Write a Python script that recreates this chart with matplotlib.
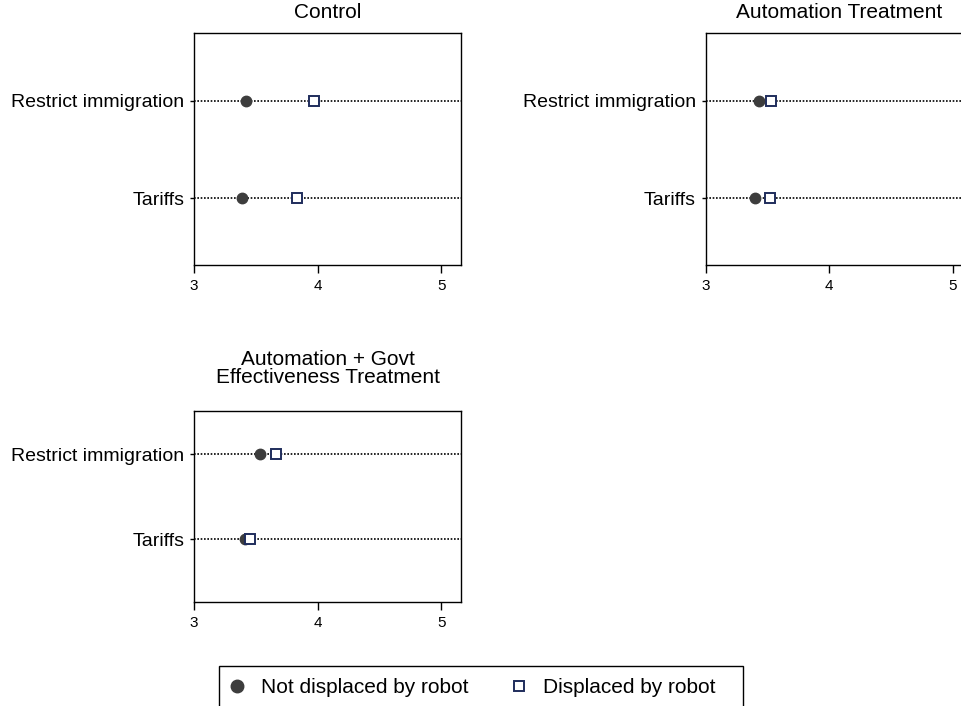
import matplotlib.pyplot as plt
from matplotlib.lines import Line2D
from matplotlib.patches import Rectangle

plt.rcParams['font.family'] = ['Liberation Sans', 'DejaVu Sans']

# policy items, bottom to top
items = ['Tariffs', 'Restrict immigration']
panels = ['Control', 'Automation Treatment', 'Automation + Govt\nEffectiveness Treatment']

# mean support, one list per panel, same order as items
not_displaced = [
    [3.39, 3.42],
    [3.40, 3.43],
    [3.41, 3.53],
]
displaced = [
    [3.83, 3.97],
    [3.52, 3.53],
    [3.45, 3.66],
]

x_ticks = [3, 4, 5]

W, H = 961, 706
fig = plt.figure(figsize=(W / 100, H / 100), dpi=100)

# axes boxes in pixels: left, top, right, bottom
boxes = [
    (194, 33, 461, 265),
    (705.5, 33, 972.5, 265),
    (194, 411, 461, 602),
]
ylims = [(0.31, 2.70), (0.31, 2.70), (0.26, 2.51)]
title_pads = [11, 11, 20]

dot_color = '#3d3d3d'
sq_color = '#1f2d5c'

for i, (l, t, r, b) in enumerate(boxes):
    ax = fig.add_axes([l / W, 1 - b / H, (r - l) / W, (b - t) / H])
    ypos = list(range(1, len(items) + 1))
    for y in ypos:
        ax.axhline(y, color='black', lw=1.2, ls=(0, (1, 1)), zorder=1)
    ax.plot(not_displaced[i], ypos, 'o', ms=7.5, color=dot_color, zorder=3)
    ax.plot(displaced[i], ypos, 's', ms=7, mfc='white', mec=sq_color, mew=1.4, zorder=4)
    ax.set_xlim(3, 5.16)
    ax.set_ylim(*ylims[i])
    ax.set_xticks(x_ticks)
    ax.set_xticklabels([str(v) for v in x_ticks], fontsize=11)
    ax.set_yticks(ypos)
    ax.set_yticklabels(items, fontsize=14)
    ax.tick_params(axis='x', length=6, width=1, pad=4)
    ax.tick_params(axis='y', length=3, width=1, pad=4)
    for s in ax.spines.values():
        s.set_linewidth(1.0)
    ax.set_title(panels[i], fontsize=15, pad=title_pads[i], linespacing=0.95)

# legend box drawn by hand so it can run off the bottom edge
fig.patches.append(Rectangle((219 / W, -0.01), (743 - 219) / W, 0.01 + (706 - 665.5) / H,
                             transform=fig.transFigure, fill=False,
                             edgecolor='black', lw=1.0))

handles = [
    Line2D([], [], ls='none', marker='o', ms=9, color=dot_color),
    Line2D([], [], ls='none', marker='s', ms=7, mfc='white', mec=sq_color, mew=1.4),
]
fig.legend(handles, ['Not displaced by robot', 'Displaced by robot'],
           loc='upper left', bbox_to_anchor=(219 / W, 1 - 671 / H),
           borderaxespad=0, ncol=2, fontsize=15, frameon=False,
           borderpad=0.35, handlelength=1.0, handletextpad=0.65,
           columnspacing=1.95)

fig.savefig('out.png', dpi=100)
